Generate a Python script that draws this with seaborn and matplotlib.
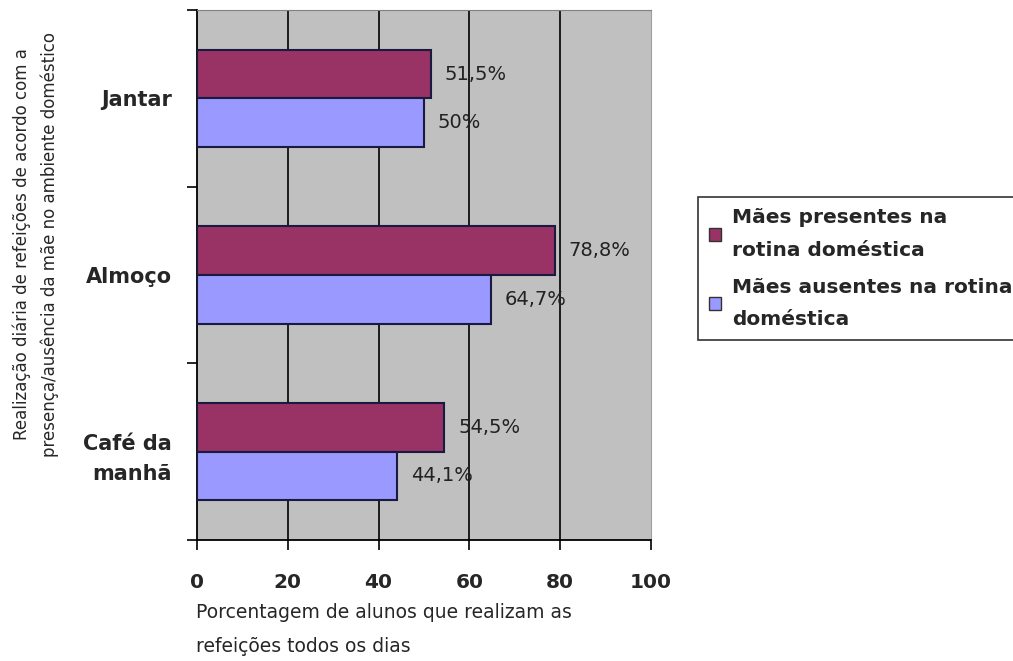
import matplotlib
matplotlib.use("Agg")
import matplotlib.pyplot as plt
import seaborn as sns
import pandas as pd

# data
refeicoes = ["Jantar", "Almoço", "Café da\nmanhã"]
presentes = [51.5, 78.8, 54.5]
ausentes = [50.0, 64.7, 44.1]
rot_presentes = ["51,5%", "78,8%", "54,5%"]
rot_ausentes = ["50%", "64,7%", "44,1%"]
series = ["Mães presentes na\nrotina doméstica", "Mães ausentes na rotina\ndoméstica"]
cores = ["#993366", "#9999FF"]

df = pd.DataFrame({
    "refeicao": refeicoes * 2,
    "valor": presentes + ausentes,
    "grupo": [series[0]] * 3 + [series[1]] * 3,
})

sns.set_style("white")
plt.rcParams["font.family"] = ["DejaVu Sans"]

fig = plt.figure(figsize=(10.13, 6.61), dpi=100)
ax = fig.add_axes([197 / 1013, 1 - 540 / 661, (651 - 197) / 1013, 530 / 661])
ax.set_facecolor("#C0C0C0")

sns.barplot(data=df, y="refeicao", x="valor", hue="grupo", order=refeicoes,
            hue_order=series, palette=cores, orient="h", width=0.55,
            edgecolor="#1a1a40", linewidth=1.5, saturation=1, ax=ax, zorder=3)

ax.set_xlim(0, 100)
ax.set_ylim(2.5, -0.5)
ax.set_xticks([0, 20, 40, 60, 80, 100])
ax.set_xticklabels(["0", "20", "40", "60", "80", "100"], fontsize=14.5, fontweight="bold")
for xv in [20, 40, 60, 80]:
    ax.axvline(xv, color="black", lw=1.2, zorder=1)

ax.set_yticks([0, 1, 2])
ax.set_yticklabels(refeicoes, fontsize=15, fontweight="bold", linespacing=1.65)
ax.set_yticks([-0.5, 0.5, 1.5, 2.5], minor=True)
ax.tick_params(axis="y", which="major", length=0, pad=18)
ax.tick_params(axis="y", which="minor", length=7, width=1.2, color="black", left=True)
ax.tick_params(axis="x", length=7, width=1.2, color="black", bottom=True, pad=17)

ax.set_xlabel("")
ax.set_ylabel("")
for s in ["left", "bottom"]:
    ax.spines[s].set_color("black")
    ax.spines[s].set_linewidth(1.3)
ax.spines["top"].set_color("#808080")
ax.spines["right"].set_color("#A0A0A0")

# data labels
for cont, rot in zip(ax.containers, [rot_presentes, rot_ausentes]):
    ax.bar_label(cont, labels=rot, padding=10, fontsize=14, color="#222222", zorder=4)

ax.get_legend().remove()
handles = [plt.Rectangle((0, 0), 1, 1, facecolor=c, edgecolor="#333333") for c in cores]
leg = fig.legend(handles, series, loc="upper left",
                 bbox_to_anchor=(698 / 1013, 1 - 197 / 661),
                 frameon=True, fancybox=False, edgecolor="black",
                 prop={"weight": "bold", "size": 14.5},
                 handlelength=0.6, handleheight=0.6, handletextpad=0.55,
                 labelspacing=0.9, borderpad=0.55, borderaxespad=0)
leg.get_frame().set_linewidth(1.2)
for t in leg.get_texts():
    t.set_linespacing(1.9)

fig.text(36 / 1013, 1 - 244 / 661,
         "Realização diária de refeições de acordo com a\npresença/ausência da mãe no ambiente doméstico",
         rotation=90, ha="center", va="center", fontsize=12, linespacing=1.65)
fig.text(196 / 1013, 1 - 603 / 661,
         "Porcentagem de alunos que realizam as\nrefeições todos os dias",
         ha="left", va="top", fontsize=13.5, linespacing=2.0)

fig.savefig("out.png", dpi=100)
